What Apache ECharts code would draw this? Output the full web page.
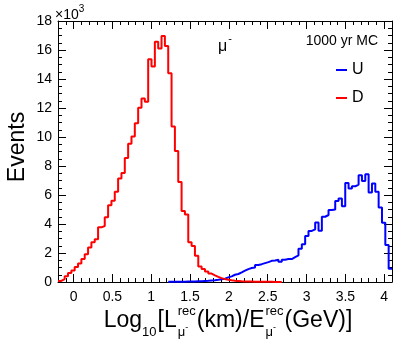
<!DOCTYPE html>
<html lang="en">
<head>
<meta charset="UTF-8">
<title>mu- Log10(L/E)</title>
<script src="https://cdn.jsdelivr.net/npm/echarts@6.0.0/dist/echarts.min.js"></script>
<style>
  html, body { margin: 0; padding: 0; background: #fff; }
  #chart { width: 407px; height: 345px; }
</style>
</head>
<body>
<div id="chart"></div>
<script>
// 100 bins between -0.2 and 4.1
var xMin = -0.2, xMax = 4.1, binWidth = 0.043;
var yMin = 0, yMax = 18;   // in units of 10^3 events

// D : counts (x10^3), first bin index 0
var downFirstBin = 0;
var downCounts = [0.07, 0.2, 0.39, 0.62, 0.8, 1.03, 1.28, 1.58, 1.92, 2.38,
  2.74, 2.95, 3.77, 3.86, 4.46, 5.3, 5.6, 6.22, 7.13, 7.52,
  8.55, 9.53, 10.03, 10.95, 12.02, 12.66, 12.43, 15.36, 14.86, 16.57,
  16.11, 16.96, 16.27, 14.4, 10.72, 9.03, 6.9, 4.89, 4.66, 2.74,
  2.49, 1.81, 1.07, 0.9, 0.72, 0.58, 0.46, 0.35, 0.27, 0.2,
  0.16, 0.12, 0.09, 0.07, 0.05, 0.04, 0.03, 0.03, 0.02, 0.02,
  0.01, 0.01, 0.01, 0.01, 0, 0, 0];

// U : counts (x10^3), first bin index 33
var upFirstBin = 33;
var upCounts = [0.01, 0.01, 0.01, 0.02, 0.02, 0.03, 0.03, 0.04, 0.05, 0.06,
  0.07, 0.08, 0.1, 0.12, 0.15, 0.19, 0.23, 0.32, 0.39, 0.5,
  0.55, 0.66, 0.78, 0.89, 0.96, 1.0, 1.17, 1.23, 1.3, 1.37,
  1.46, 1.49, 1.53, 1.39, 1.53, 1.58, 1.58, 1.71, 1.83, 2.29,
  2.6, 3.18, 3.52, 3.63, 4.11, 3.54, 4.5, 4.62, 4.96, 5.0,
  5.58, 5.76, 5.23, 6.83, 6.45, 6.6, 6.72, 7.36, 6.97, 7.43,
  6.17, 6.79, 6.22, 5.14, 4.09, 2.56, 0.91];

var xMajorTicks = [0, 0.5, 1, 1.5, 2, 2.5, 3, 3.5, 4];
var seriesNames = ['U', 'D'];
var seriesColors = ['#0000ff', '#ff0000'];

var FONT = '"Liberation Sans", Arial, Helvetica, sans-serif';

// minor ticks every 0.1 (skip the majors)
var xMinorTicks = [];
for (var t = -1; t <= 40; t++) {
  if (t % 5 !== 0) xMinorTicks.push(Math.round(t) / 10);
}

// histogram outline: two points per bin
function stepPoints(counts, firstBin) {
  var pts = [];
  for (var k = 0; k < counts.length; k++) {
    var lo = xMin + (firstBin + k) * binWidth;
    var hi = lo + binWidth;
    pts.push([lo, counts[k]], [hi, counts[k]]);
  }
  return pts;
}

// text helpers for the latex-like titles
var measureCtx = document.createElement('canvas').getContext('2d');
function textW(str, size) {
  measureCtx.font = size + 'px ' + FONT;
  return measureCtx.measureText(str).width;
}
// y is the alphabetic baseline
function txt(str, x, y, size, align, rot) {
  var el = {
    type: 'text',
    x: x,
    y: y - (rot ? 0 : 0.31 * size),
    silent: true,
    style: {
      text: str,
      font: size + 'px ' + FONT,
      fill: '#000',
      align: align || 'left',
      textAlign: align || 'left',
      verticalAlign: 'middle',
      textVerticalAlign: 'middle'
    }
  };
  if (rot) el.rotation = rot;
  return el;
}

var BIG = 23, SMALL = 13;
var xTitleRuns = [
  { t: 'Log' },
  { sub: '10' },
  { t: '[L' },
  { stack: true },
  { t: '(km)/E' },
  { stack: true },
  { t: '(GeV)]' }
];

function buildXTitle(centerX, baseY) {
  var total = 0, i, r, widths = [];
  for (i = 0; i < xTitleRuns.length; i++) {
    r = xTitleRuns[i];
    var w;
    if (r.t) w = textW(r.t, BIG);
    else if (r.sub) w = textW(r.sub, SMALL) + 1;
    else w = Math.max(textW('rec', SMALL), textW('\u03bc', SMALL) + textW('-', 9)) + 2;
    widths.push(w);
    total += w;
  }
  var x = centerX - total / 2, els = [];
  for (i = 0; i < xTitleRuns.length; i++) {
    r = xTitleRuns[i];
    if (r.t) {
      els.push(txt(r.t, x, baseY, BIG));
    } else if (r.sub) {
      els.push(txt(r.sub, x, baseY + 8, SMALL));
    } else {
      els.push(txt('rec', x + 1, baseY - 13, SMALL));
      els.push(txt('\u03bc', x + 1, baseY + 8, SMALL));
      els.push(txt('-', x + 1 + textW('\u03bc', SMALL), baseY + 2, 9));
    }
    x += widths[i];
  }
  return els;
}

var graphicEls = buildXTitle(228, 328);
graphicEls.push(txt('Events', 18, 147, BIG, 'center', Math.PI / 2));
graphicEls.push(txt('\u00d710', 55, 19, 14));
graphicEls.push(txt('3', 55 + textW('\u00d710', 14), 12, 10));
graphicEls.push(txt('\u03bc', 218, 52, 16));
graphicEls.push(txt('-', 218 + textW('\u03bc', 16) + 1, 42, 11));
graphicEls.push(txt('1000 yr MC', 378, 45, 14, 'right'));

var axisLineStyle = { color: '#000', width: 1 };

function xAxisDef(pos, ticks, len, showLine, showLabel) {
  return {
    type: 'value', position: pos, min: xMin, max: xMax,
    axisLine: { show: showLine, onZero: false, lineStyle: axisLineStyle },
    axisTick: { show: true, inside: true, length: len, customValues: ticks, lineStyle: axisLineStyle },
    axisLabel: {
      show: showLabel, customValues: xMajorTicks, margin: 8,
      fontSize: 14, color: '#000', fontFamily: FONT
    },
    splitLine: { show: false }
  };
}

function yAxisDef(pos, showLabel) {
  return {
    type: 'value', position: pos, min: yMin, max: yMax, interval: 2,
    axisLine: { show: true, onZero: false, lineStyle: axisLineStyle },
    axisTick: { show: true, inside: true, length: 8, lineStyle: axisLineStyle },
    minorTick: { show: true, splitNumber: 4, length: 4, lineStyle: axisLineStyle },
    axisLabel: { show: showLabel, margin: 6, fontSize: 14, color: '#000', fontFamily: FONT },
    splitLine: { show: false }
  };
}

var chart = echarts.init(document.getElementById('chart'));
var option = {
  animation: false,
  backgroundColor: '#fff',
  grid: { left: 58, right: 15, top: 21, bottom: 63, containLabel: false },
  xAxis: [
    xAxisDef('bottom', xMajorTicks, 8, true, true),
    xAxisDef('bottom', xMinorTicks, 4, false, false),
    xAxisDef('top', xMajorTicks, 8, true, false),
    xAxisDef('top', xMinorTicks, 4, false, false)
  ],
  yAxis: [
    yAxisDef('left', true),
    yAxisDef('right', false)
  ],
  legend: {
    orient: 'vertical', left: 336, top: 62, padding: 0, itemGap: 12,
    icon: 'rect', itemWidth: 11, itemHeight: 2,
    textStyle: { fontSize: 16, color: '#000', fontFamily: FONT },
    data: seriesNames
  },
  graphic: { elements: graphicEls },
  series: [
    {
      name: seriesNames[0], type: 'line', xAxisIndex: 0, yAxisIndex: 0,
      showSymbol: false, symbol: 'none', color: seriesColors[0],
      lineStyle: { width: 2, color: seriesColors[0] },
      data: stepPoints(upCounts, upFirstBin)
    },
    {
      name: seriesNames[1], type: 'line', xAxisIndex: 0, yAxisIndex: 0,
      showSymbol: false, symbol: 'none', color: seriesColors[1],
      lineStyle: { width: 2, color: seriesColors[1] },
      data: stepPoints(downCounts, downFirstBin)
    }
  ]
};
chart.setOption(option);
</script>
</body>
</html>
